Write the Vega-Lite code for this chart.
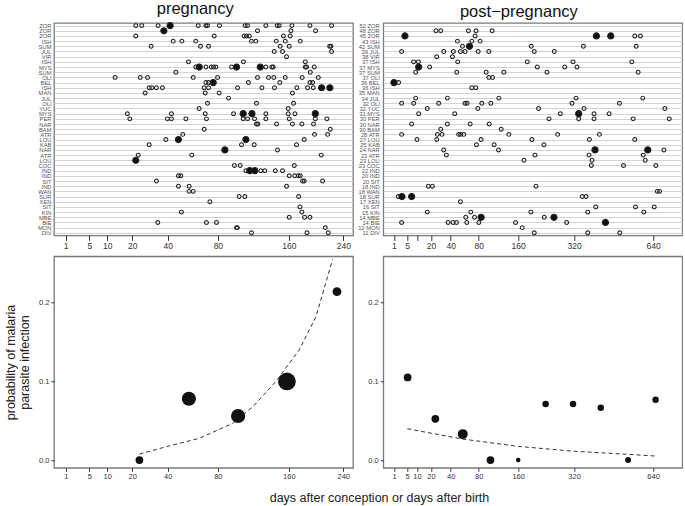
{
"$schema":"https://vega.github.io/schema/vega-lite/v6.json",
"padding":{"left":3,"top":0,"right":0,"bottom":1},
"config":{"font":"Liberation Sans","view":{"stroke":"#7a7a7a","strokeWidth":1.3},"axis":{"grid":false,"domain":false,"tickColor":"#333","labelColor":"#333","titleFontWeight":"normal","titleColor":"#222"},"title":{"fontWeight":"normal","color":"#111"}},
"datasets":{
"dots":[
{"p":"a","r":1,"d":21.7,"f":0},{"p":"a","r":1,"d":24.7,"f":0},{"p":"a","r":1,"d":33.9,"f":0},{"p":"a","r":1,"d":41.6,"f":1},{"p":"a","r":1,"d":62.7,"f":0},{"p":"a","r":1,"d":69.2,"f":0},{"p":"a","r":1,"d":70.6,"f":0},{"p":"a","r":1,"d":81.5,"f":0},{"p":"a","r":1,"d":107.5,"f":0},{"p":"a","r":1,"d":110.1,"f":0},{"p":"a","r":1,"d":131.1,"f":0},{"p":"a","r":1,"d":145,"f":0},{"p":"a","r":1,"d":147.6,"f":0},{"p":"a","r":1,"d":164.1,"f":0},{"p":"a","r":1,"d":189.1,"f":0},{"p":"a","r":1,"d":221.4,"f":0},
{"p":"a","r":2,"d":37.5,"f":1},{"p":"a","r":2,"d":121.3,"f":0},{"p":"a","r":2,"d":162.8,"f":0},{"p":"a","r":2,"d":197.3,"f":0},
{"p":"a","r":3,"d":21.7,"f":0},{"p":"a","r":3,"d":76.6,"f":0},{"p":"a","r":3,"d":106.5,"f":0},{"p":"a","r":3,"d":109,"f":0},{"p":"a","r":3,"d":112,"f":0},{"p":"a","r":3,"d":153,"f":0},{"p":"a","r":3,"d":161.8,"f":0},
{"p":"a","r":4,"d":43.7,"f":0},{"p":"a","r":4,"d":49.9,"f":0},{"p":"a","r":4,"d":60.7,"f":0},{"p":"a","r":4,"d":114.5,"f":0},{"p":"a","r":4,"d":119.4,"f":0},{"p":"a","r":4,"d":143.8,"f":0},{"p":"a","r":4,"d":155.3,"f":0},{"p":"a","r":4,"d":175.4,"f":0},
{"p":"a","r":5,"d":29.8,"f":0},{"p":"a","r":5,"d":64.6,"f":0},{"p":"a","r":5,"d":71.5,"f":0},{"p":"a","r":5,"d":148.8,"f":0},{"p":"a","r":5,"d":160.5,"f":0},{"p":"a","r":5,"d":218.5,"f":0},{"p":"a","r":5,"d":220.5,"f":0},
{"p":"a","r":6,"d":141.3,"f":0},{"p":"a","r":6,"d":151.8,"f":0},{"p":"a","r":6,"d":221.4,"f":0},
{"p":"a","r":7,"d":157,"f":0},
{"p":"a","r":8,"d":54.9,"f":0},{"p":"a","r":8,"d":105.7,"f":0},{"p":"a","r":8,"d":182.5,"f":0},
{"p":"a","r":9,"d":60.7,"f":0},{"p":"a","r":9,"d":63.5,"f":1},{"p":"a","r":9,"d":69.2,"f":0},{"p":"a","r":9,"d":74,"f":0},{"p":"a","r":9,"d":76,"f":0},{"p":"a","r":9,"d":78.1,"f":0},{"p":"a","r":9,"d":93.3,"f":0},{"p":"a","r":9,"d":98.4,"f":1},{"p":"a","r":9,"d":124.5,"f":1},{"p":"a","r":9,"d":131.1,"f":0},{"p":"a","r":9,"d":138.4,"f":0},{"p":"a","r":9,"d":140,"f":0},{"p":"a","r":9,"d":182.5,"f":0},{"p":"a","r":9,"d":184.4,"f":0},{"p":"a","r":9,"d":195.4,"f":0},
{"p":"a","r":10,"d":45.6,"f":0},{"p":"a","r":10,"d":189.6,"f":0},
{"p":"a","r":11,"d":12.8,"f":0},{"p":"a","r":11,"d":23.9,"f":0},{"p":"a","r":11,"d":27.8,"f":0},{"p":"a","r":11,"d":58.6,"f":0},{"p":"a","r":11,"d":79.7,"f":0},{"p":"a","r":11,"d":121.3,"f":0},{"p":"a","r":11,"d":134.3,"f":0},{"p":"a","r":11,"d":140.8,"f":0},{"p":"a","r":11,"d":155.3,"f":0},{"p":"a","r":11,"d":178.1,"f":0},{"p":"a","r":11,"d":201.3,"f":0},
{"p":"a","r":12,"d":69.2,"f":0},{"p":"a","r":12,"d":71.5,"f":0},{"p":"a","r":12,"d":75.7,"f":1},{"p":"a","r":12,"d":111.1,"f":0},{"p":"a","r":12,"d":148.3,"f":0},{"p":"a","r":12,"d":189.1,"f":0},{"p":"a","r":12,"d":192.9,"f":0},
{"p":"a","r":13,"d":28.7,"f":0},{"p":"a","r":13,"d":30.2,"f":0},{"p":"a","r":13,"d":32.9,"f":0},{"p":"a","r":13,"d":36.6,"f":0},{"p":"a","r":13,"d":67.7,"f":0},{"p":"a","r":13,"d":71.5,"f":0},{"p":"a","r":13,"d":99.4,"f":0},{"p":"a","r":13,"d":126.4,"f":0},{"p":"a","r":13,"d":141.6,"f":0},{"p":"a","r":13,"d":170.8,"f":0},{"p":"a","r":13,"d":185.7,"f":0},{"p":"a","r":13,"d":193.9,"f":0},{"p":"a","r":13,"d":206.2,"f":1},{"p":"a","r":13,"d":218.8,"f":1},
{"p":"a","r":14,"d":26.5,"f":0},{"p":"a","r":14,"d":68.6,"f":0},{"p":"a","r":14,"d":81.2,"f":0},{"p":"a","r":14,"d":164.8,"f":0},
{"p":"a","r":15,"d":90.3,"f":0},
{"p":"a","r":16,"d":70.6,"f":0},{"p":"a","r":16,"d":120.1,"f":0},{"p":"a","r":16,"d":166.3,"f":0},
{"p":"a","r":17,"d":63.5,"f":0},{"p":"a","r":17,"d":159.2,"f":0},
{"p":"a","r":18,"d":17.8,"f":0},{"p":"a","r":18,"d":42.5,"f":0},{"p":"a","r":18,"d":68.6,"f":0},{"p":"a","r":18,"d":95.3,"f":0},{"p":"a","r":18,"d":105.4,"f":1},{"p":"a","r":18,"d":115,"f":1},{"p":"a","r":18,"d":131.1,"f":0},{"p":"a","r":18,"d":159.2,"f":0},{"p":"a","r":18,"d":168.2,"f":0},{"p":"a","r":18,"d":196.9,"f":1},
{"p":"a","r":19,"d":18.9,"f":0},{"p":"a","r":19,"d":39.8,"f":0},{"p":"a","r":19,"d":42.5,"f":0},{"p":"a","r":19,"d":52.9,"f":0},{"p":"a","r":19,"d":69.7,"f":0},{"p":"a","r":19,"d":105.4,"f":0},{"p":"a","r":19,"d":110.1,"f":0},{"p":"a","r":19,"d":117.9,"f":0},{"p":"a","r":19,"d":131.1,"f":0},{"p":"a","r":19,"d":160.5,"f":0},{"p":"a","r":19,"d":196.9,"f":0},{"p":"a","r":19,"d":214.3,"f":0},
{"p":"a","r":20,"d":120.1,"f":0},{"p":"a","r":20,"d":121.7,"f":0},{"p":"a","r":20,"d":144.2,"f":0},{"p":"a","r":20,"d":164.8,"f":0},{"p":"a","r":20,"d":177.7,"f":0},{"p":"a","r":20,"d":194.3,"f":0},
{"p":"a","r":21,"d":67.7,"f":0},{"p":"a","r":21,"d":219.4,"f":0},
{"p":"a","r":22,"d":50.6,"f":0},{"p":"a","r":22,"d":195.8,"f":0},{"p":"a","r":22,"d":215.3,"f":0},
{"p":"a","r":23,"d":38.8,"f":0},{"p":"a","r":23,"d":47.4,"f":1},{"p":"a","r":23,"d":108.3,"f":1},{"p":"a","r":23,"d":181,"f":0},
{"p":"a","r":24,"d":28.7,"f":0},{"p":"a","r":24,"d":103.6,"f":0},{"p":"a","r":24,"d":117.5,"f":0},{"p":"a","r":24,"d":170.3,"f":0},
{"p":"a","r":25,"d":86.7,"f":1},{"p":"a","r":25,"d":145.4,"f":0},
{"p":"a","r":26,"d":22.9,"f":0},{"p":"a","r":26,"d":57.5,"f":0},{"p":"a","r":26,"d":205.7,"f":0},
{"p":"a","r":27,"d":21.7,"f":1},
{"p":"a","r":28,"d":96.2,"f":0},{"p":"a","r":28,"d":102.2,"f":0},{"p":"a","r":28,"d":167.3,"f":0},
{"p":"a","r":29,"d":108.3,"f":0},{"p":"a","r":29,"d":112.6,"f":1},{"p":"a","r":29,"d":118.3,"f":1},{"p":"a","r":29,"d":125.2,"f":0},{"p":"a","r":29,"d":129.9,"f":0},{"p":"a","r":29,"d":142.6,"f":0},{"p":"a","r":29,"d":151.8,"f":0},
{"p":"a","r":30,"d":47.4,"f":0},{"p":"a","r":30,"d":49.1,"f":0},{"p":"a","r":30,"d":160.5,"f":0},{"p":"a","r":30,"d":167.8,"f":0},{"p":"a","r":30,"d":172.7,"f":0},{"p":"a","r":30,"d":175.4,"f":0},
{"p":"a","r":31,"d":32.9,"f":0},{"p":"a","r":31,"d":178.7,"f":0},{"p":"a","r":31,"d":181,"f":0},{"p":"a","r":31,"d":207.7,"f":0},
{"p":"a","r":32,"d":47.4,"f":0},{"p":"a","r":32,"d":55.4,"f":0},{"p":"a","r":32,"d":157,"f":0},
{"p":"a","r":33,"d":55.4,"f":0},{"p":"a","r":33,"d":58.6,"f":0},
{"p":"a","r":34,"d":101.1,"f":0},{"p":"a","r":34,"d":107.2,"f":0},{"p":"a","r":34,"d":173.2,"f":0},
{"p":"a","r":35,"d":72.7,"f":0},
{"p":"a","r":36,"d":175,"f":0},
{"p":"a","r":37,"d":49.6,"f":0},{"p":"a","r":37,"d":177.7,"f":0},
{"p":"a","r":38,"d":160.5,"f":0},{"p":"a","r":38,"d":181.5,"f":0},{"p":"a","r":38,"d":189.1,"f":0},
{"p":"a","r":39,"d":33.7,"f":0},{"p":"a","r":39,"d":69.7,"f":0},{"p":"a","r":39,"d":78.7,"f":0},
{"p":"a","r":40,"d":98.4,"f":0},{"p":"a","r":40,"d":99.2,"f":0},{"p":"a","r":40,"d":211.8,"f":0},
{"p":"a","r":41,"d":114.5,"f":0},{"p":"a","r":41,"d":184.9,"f":0},{"p":"a","r":41,"d":216.3,"f":0},
{"p":"b","r":2,"d":24.4,"f":0},{"p":"b","r":2,"d":29,"f":0},{"p":"b","r":2,"d":63.7,"f":0},{"p":"b","r":2,"d":75.7,"f":0},{"p":"b","r":2,"d":104.2,"f":0},
{"p":"b","r":3,"d":4.12,"f":1},{"p":"b","r":3,"d":74.1,"f":0},{"p":"b","r":3,"d":399.2,"f":1},{"p":"b","r":3,"d":454.9,"f":1},{"p":"b","r":3,"d":556,"f":0},{"p":"b","r":3,"d":581.3,"f":0},
{"p":"b","r":4,"d":48.3,"f":0},{"p":"b","r":4,"d":68.9,"f":0},{"p":"b","r":4,"d":82.4,"f":0},
{"p":"b","r":5,"d":55.1,"f":0},{"p":"b","r":5,"d":65.3,"f":1},{"p":"b","r":5,"d":192.4,"f":0},{"p":"b","r":5,"d":351.9,"f":0},{"p":"b","r":5,"d":562.2,"f":0},
{"p":"b","r":6,"d":2.95,"f":0},{"p":"b","r":6,"d":32.1,"f":0},{"p":"b","r":6,"d":43.2,"f":0},{"p":"b","r":6,"d":52.3,"f":0},{"p":"b","r":6,"d":58.8,"f":0},{"p":"b","r":6,"d":79.1,"f":0},{"p":"b","r":6,"d":97.9,"f":0},{"p":"b","r":6,"d":200.3,"f":0},{"p":"b","r":6,"d":257.1,"f":0},
{"p":"b","r":7,"d":25.1,"f":0},{"p":"b","r":7,"d":42,"f":0},
{"p":"b","r":8,"d":8.1,"f":0},{"p":"b","r":8,"d":10.8,"f":0},{"p":"b","r":8,"d":48.7,"f":0},{"p":"b","r":8,"d":182.2,"f":0},{"p":"b","r":8,"d":316.5,"f":0},{"p":"b","r":8,"d":543,"f":0},
{"p":"b","r":9,"d":11,"f":1},{"p":"b","r":9,"d":18.9,"f":0},{"p":"b","r":9,"d":208.5,"f":0},{"p":"b","r":9,"d":289.4,"f":0},{"p":"b","r":9,"d":329.9,"f":0},
{"p":"b","r":10,"d":9.2,"f":0},{"p":"b","r":10,"d":47.4,"f":0},{"p":"b","r":10,"d":93,"f":0},{"p":"b","r":10,"d":127.8,"f":0},{"p":"b","r":10,"d":235.5,"f":0},{"p":"b","r":10,"d":571,"f":0},
{"p":"b","r":11,"d":97.9,"f":0},{"p":"b","r":11,"d":104.8,"f":0},
{"p":"b","r":12,"d":1.0,"f":1},{"p":"b","r":12,"d":2.06,"f":0},
{"p":"b","r":13,"d":68.9,"f":0},{"p":"b","r":13,"d":75.2,"f":0},
{"p":"b","r":15,"d":9.2,"f":0},{"p":"b","r":15,"d":36.1,"f":0},{"p":"b","r":15,"d":117.4,"f":0},{"p":"b","r":15,"d":326.6,"f":0},{"p":"b","r":15,"d":592,"f":0},
{"p":"b","r":16,"d":2.95,"f":0},{"p":"b","r":16,"d":8.1,"f":0},{"p":"b","r":16,"d":27,"f":0},{"p":"b","r":16,"d":58.8,"f":0},{"p":"b","r":16,"d":61.7,"f":0},{"p":"b","r":16,"d":85.3,"f":0},{"p":"b","r":16,"d":101.6,"f":0},{"p":"b","r":16,"d":313,"f":0},{"p":"b","r":16,"d":490.5,"f":0},
{"p":"b","r":17,"d":17,"f":0},{"p":"b","r":17,"d":78.5,"f":0},{"p":"b","r":17,"d":212,"f":0},{"p":"b","r":17,"d":354,"f":0},{"p":"b","r":17,"d":697,"f":0},
{"p":"b","r":18,"d":11,"f":0},{"p":"b","r":18,"d":44.9,"f":0},{"p":"b","r":18,"d":275.6,"f":0},{"p":"b","r":18,"d":335.6,"f":1},{"p":"b","r":18,"d":390.5,"f":0},{"p":"b","r":18,"d":448.3,"f":0},
{"p":"b","r":19,"d":241.3,"f":0},{"p":"b","r":19,"d":335.6,"f":0},{"p":"b","r":19,"d":390.5,"f":0},{"p":"b","r":19,"d":548.9,"f":0},{"p":"b","r":19,"d":718.8,"f":0},
{"p":"b","r":20,"d":7.06,"f":0},{"p":"b","r":20,"d":36.1,"f":0},{"p":"b","r":20,"d":66.3,"f":0},{"p":"b","r":20,"d":98.6,"f":0},
{"p":"b","r":21,"d":29,"f":0},{"p":"b","r":21,"d":122.2,"f":0},
{"p":"b","r":22,"d":2.95,"f":0},{"p":"b","r":22,"d":25.7,"f":0},{"p":"b","r":22,"d":30.3,"f":0},{"p":"b","r":22,"d":50,"f":0},{"p":"b","r":22,"d":52.7,"f":0},{"p":"b","r":22,"d":56.9,"f":0},{"p":"b","r":22,"d":138.6,"f":0},{"p":"b","r":22,"d":267.3,"f":0},{"p":"b","r":22,"d":410.8,"f":0},
{"p":"b","r":23,"d":10,"f":0},{"p":"b","r":23,"d":25.1,"f":0},{"p":"b","r":23,"d":84.1,"f":0},{"p":"b","r":23,"d":194.1,"f":0},{"p":"b","r":23,"d":373.4,"f":0},{"p":"b","r":23,"d":556,"f":0},
{"p":"b","r":24,"d":76.3,"f":0},{"p":"b","r":24,"d":108,"f":0},{"p":"b","r":24,"d":226.8,"f":0},
{"p":"b","r":25,"d":32.1,"f":0},{"p":"b","r":25,"d":116.7,"f":0},{"p":"b","r":25,"d":394,"f":1},{"p":"b","r":25,"d":615,"f":1},{"p":"b","r":25,"d":692.2,"f":0},
{"p":"b","r":26,"d":35,"f":0},{"p":"b","r":26,"d":202.2,"f":0},{"p":"b","r":26,"d":372.1,"f":0},{"p":"b","r":26,"d":593.8,"f":0},
{"p":"b","r":27,"d":173.8,"f":0},{"p":"b","r":27,"d":383,"f":0},{"p":"b","r":27,"d":603,"f":0},
{"p":"b","r":28,"d":380.6,"f":0},{"p":"b","r":28,"d":507.3,"f":0},{"p":"b","r":28,"d":653.2,"f":0},
{"p":"b","r":32,"d":17.8,"f":0},{"p":"b","r":32,"d":21.2,"f":0},{"p":"b","r":32,"d":204.9,"f":0},
{"p":"b","r":33,"d":659.6,"f":0},{"p":"b","r":33,"d":671,"f":0},
{"p":"b","r":34,"d":1.97,"f":0},{"p":"b","r":34,"d":3.06,"f":1},{"p":"b","r":34,"d":7.06,"f":1},{"p":"b","r":34,"d":348.3,"f":0},{"p":"b","r":34,"d":361.4,"f":0},
{"p":"b","r":35,"d":52.3,"f":0},
{"p":"b","r":36,"d":396.8,"f":0},{"p":"b","r":36,"d":559.2,"f":0},{"p":"b","r":36,"d":645.3,"f":0},
{"p":"b","r":37,"d":17,"f":0},{"p":"b","r":37,"d":67.3,"f":0},{"p":"b","r":37,"d":191.6,"f":0},{"p":"b","r":37,"d":367.4,"f":0},{"p":"b","r":37,"d":596.7,"f":0},
{"p":"b","r":38,"d":59.8,"f":0},{"p":"b","r":38,"d":73.1,"f":0},{"p":"b","r":38,"d":84.1,"f":1},{"p":"b","r":38,"d":227.8,"f":0},{"p":"b","r":38,"d":256,"f":1},
{"p":"b","r":39,"d":2.95,"f":0},{"p":"b","r":39,"d":36.9,"f":0},{"p":"b","r":39,"d":42.8,"f":0},{"p":"b","r":39,"d":47,"f":0},{"p":"b","r":39,"d":61.3,"f":0},{"p":"b","r":39,"d":80.2,"f":0},{"p":"b","r":39,"d":153.8,"f":0},{"p":"b","r":39,"d":295.6,"f":0},{"p":"b","r":39,"d":433.8,"f":1},
{"p":"b","r":40,"d":169.7,"f":0},
{"p":"b","r":41,"d":200.3,"f":0},{"p":"b","r":41,"d":367.4,"f":0},{"p":"b","r":41,"d":491.6,"f":0}
],
"prob":[
{"p":"a","d":23.5,"prob":0.0,"n":20},{"p":"a","d":55.2,"prob":0.078,"n":67},{"p":"a","d":100,"prob":0.056,"n":67},{"p":"a","d":157.5,"prob":0.1,"n":105},{"p":"a","d":229.9,"prob":0.214,"n":26},
{"p":"b","d":5.2,"prob":0.105,"n":20},{"p":"b","d":23.8,"prob":0.0525,"n":20},{"p":"b","d":55.5,"prob":0.033,"n":33},{"p":"b","d":101,"prob":0.0,"n":20},{"p":"b","d":160,"prob":0.0,"n":7},{"p":"b","d":231.7,"prob":0.0712,"n":14},{"p":"b","d":316.5,"prob":0.0712,"n":14},{"p":"b","d":415.8,"prob":0.0665,"n":14},{"p":"b","d":527,"prob":0.0,"n":12},{"p":"b","d":651.8,"prob":0.0767,"n":14}
],
"fit":[
{"p":"a","d":23.5,"prob":0.0076},{"p":"a","d":38.8,"prob":0.0169},{"p":"a","d":63.5,"prob":0.0276},{"p":"a","d":94.3,"prob":0.0466},{"p":"a","d":115.9,"prob":0.0677},{"p":"a","d":143,"prob":0.0995},{"p":"a","d":174,"prob":0.14},{"p":"a","d":197.8,"prob":0.182},{"p":"a","d":223,"prob":0.255},
{"p":"b","d":5.07,"prob":0.0398},{"p":"b","d":55.5,"prob":0.0267},{"p":"b","d":160.8,"prob":0.0174},{"p":"b","d":313,"prob":0.0114},{"p":"b","d":530,"prob":0.0072},{"p":"b","d":654,"prob":0.0051}
]
},
"columns":2,
"bounds":"flush",
"spacing":{"row":20.3,"column":30.3},
"concat":[
{
"width":299,"height":212.4,
"title":{"text":"pregnancy","fontSize":16.5,"anchor":"middle","frame":"bounds","offset":2.5},
"data":{"name":"dots"},
"transform":[{"filter":"datum.p=='a'"}],
"mark":{"type":"point","shape":"circle","filled":true,"stroke":"#222","strokeWidth":1.05,"opacity":1},
"encoding":{
"x":{"field":"d","type":"quantitative","scale":{"type":"sqrt","domain":[0.15,256],"nice":false,"zero":false},"axis":{"values":[1,5,10,20,40,80,160,240],"title":null,"labelFontSize":8.5,"tickSize":5,"labelPadding":1,"labelFlush":false,"labelOverlap":false}},
"y":{"field":"r","type":"ordinal","scale":{"domain":[1,2,3,4,5,6,7,8,9,10,11,12,13,14,15,16,17,18,19,20,21,22,23,24,25,26,27,28,29,30,31,32,33,34,35,36,37,38,39,40,41],"padding":0.5},"axis":{"title":null,"ticks":false,"grid":true,"gridColor":"#c8c8c8","gridWidth":0.8,"labelFontSize":5.8,"labelColor":"#555","labelPadding":3,"labelExpr":"['ZOR','ZOR','ZOR','ISH','SUM','JUL','VIR','ISH','MYS','SUM','OLI','BEL','ISH','MAN','JUL','OLI','YUC','MYS','PER','NAR','BAM','ATR','LOU','KAB','NAR','ATR','LOU','COC','IND','IND','SIT','IND','WAN','SUR','XEN','SIT','KIN','MBE','BIE','MON','DIV'][datum.value-1]"}},
"fill":{"condition":{"test":"datum.f==1","value":"#111"},"value":"transparent"},
"size":{"condition":{"test":"datum.f==1","value":38},"value":15}
}
},
{
"width":299,"height":212.4,
"title":{"text":"post−pregnancy","fontSize":16.5,"anchor":"middle","frame":"bounds","offset":2.5},
"data":{"name":"dots"},
"transform":[{"filter":"datum.p=='b'"}],
"mark":{"type":"point","shape":"circle","filled":true,"stroke":"#222","strokeWidth":1.05,"opacity":1},
"encoding":{
"x":{"field":"d","type":"quantitative","scale":{"type":"sqrt","domain":[0,786],"nice":false,"zero":false},"axis":{"values":[1,5,10,20,40,80,160,320,640],"title":null,"labelFontSize":8.5,"tickSize":5,"labelPadding":1,"labelFlush":false,"labelOverlap":false,"labelExpr":"datum.value==10?'':datum.label"}},
"y":{"field":"r","type":"ordinal","scale":{"domain":[1,2,3,4,5,6,7,8,9,10,11,12,13,14,15,16,17,18,19,20,21,22,23,24,25,26,27,28,29,30,31,32,33,34,35,36,37,38,39,40,41],"padding":0.5},"axis":{"title":null,"ticks":false,"grid":true,"gridColor":"#c8c8c8","gridWidth":0.8,"labelFontSize":5.8,"labelColor":"#555","labelPadding":4,"labelExpr":"['52   ZOR','48   ZOR','45   ZOR','43    ISH','42  SUM','39    JUL','38    VIR','37    ISH','37   MYS','37  SUM','37    OLI','36    BEL','36    ISH','35  MAN','34    JUL','32    OLI','32   YUC','31   MYS','30   PER','30   NAR','30  BAM','28   ATR','27   LOU','25   KAB','24   NAR','23   ATR','23   LOU','23  COC','22    IND','20    IND','20     SIT','18    IND','18  WAN','18   SUR','17   XEN','16     SIT','15    KIN','14   MBE','14     BIE','12  MON','11     DIV'][datum.value-1]"}},
"fill":{"condition":{"test":"datum.f==1","value":"#111"},"value":"transparent"},
"size":{"condition":{"test":"datum.f==1","value":38},"value":15}
}
},
{
"width":299,"height":211.5,
"encoding":{
"x":{"field":"d","type":"quantitative","scale":{"type":"sqrt","domain":[0.15,256],"nice":false,"zero":false},"axis":{"values":[1,5,10,20,40,80,160,240],"title":"days after conception or days after birth","titleFontSize":12.5,"titleX":325,"titleY":24,"titleAlign":"center","titleBaseline":"top","labelFontSize":7.5,"tickSize":3.5,"labelPadding":1,"labelFlush":false,"labelOverlap":false}},
"y":{"field":"prob","type":"quantitative","scale":{"domain":[-0.0098,0.259],"nice":false,"zero":false},"axis":{"values":[0,0.1,0.2],"format":".1f","title":["probability of malaria","parasite infection"],"titleFontSize":12.5,"titleLineHeight":14,"titlePadding":7,"labelFontSize":7.5,"tickSize":3,"labelPadding":2}}
},
"layer":[
{"data":{"name":"fit"},"transform":[{"filter":"datum.p=='a'"}],"mark":{"type":"line","strokeDash":[4,3],"color":"#333","strokeWidth":1}},
{"data":{"name":"prob"},"transform":[{"filter":"datum.p=='a'"}],"mark":{"type":"circle","color":"#111","opacity":1},"encoding":{"size":{"field":"n","type":"quantitative","scale":{"domain":[0,100],"range":[0,300]},"legend":null}}}
]
},
{
"width":299,"height":211.5,
"encoding":{
"x":{"field":"d","type":"quantitative","scale":{"type":"sqrt","domain":[0,786],"nice":false,"zero":false},"axis":{"values":[1,5,10,20,40,80,160,320,640],"title":null,"labelFontSize":7.5,"tickSize":3.5,"labelPadding":1,"labelFlush":false,"labelOverlap":false}},
"y":{"field":"prob","type":"quantitative","scale":{"domain":[-0.0098,0.259],"nice":false,"zero":false},"axis":{"values":[0,0.1,0.2],"format":".1f","title":null,"labelFontSize":7.5,"tickSize":3,"labelPadding":2}}
},
"layer":[
{"data":{"name":"fit"},"transform":[{"filter":"datum.p=='b'"}],"mark":{"type":"line","strokeDash":[4,3],"color":"#333","strokeWidth":1}},
{"data":{"name":"prob"},"transform":[{"filter":"datum.p=='b'"}],"mark":{"type":"circle","color":"#111","opacity":1},"encoding":{"size":{"field":"n","type":"quantitative","scale":{"domain":[0,100],"range":[0,300]},"legend":null}}}
]
}
]
}
